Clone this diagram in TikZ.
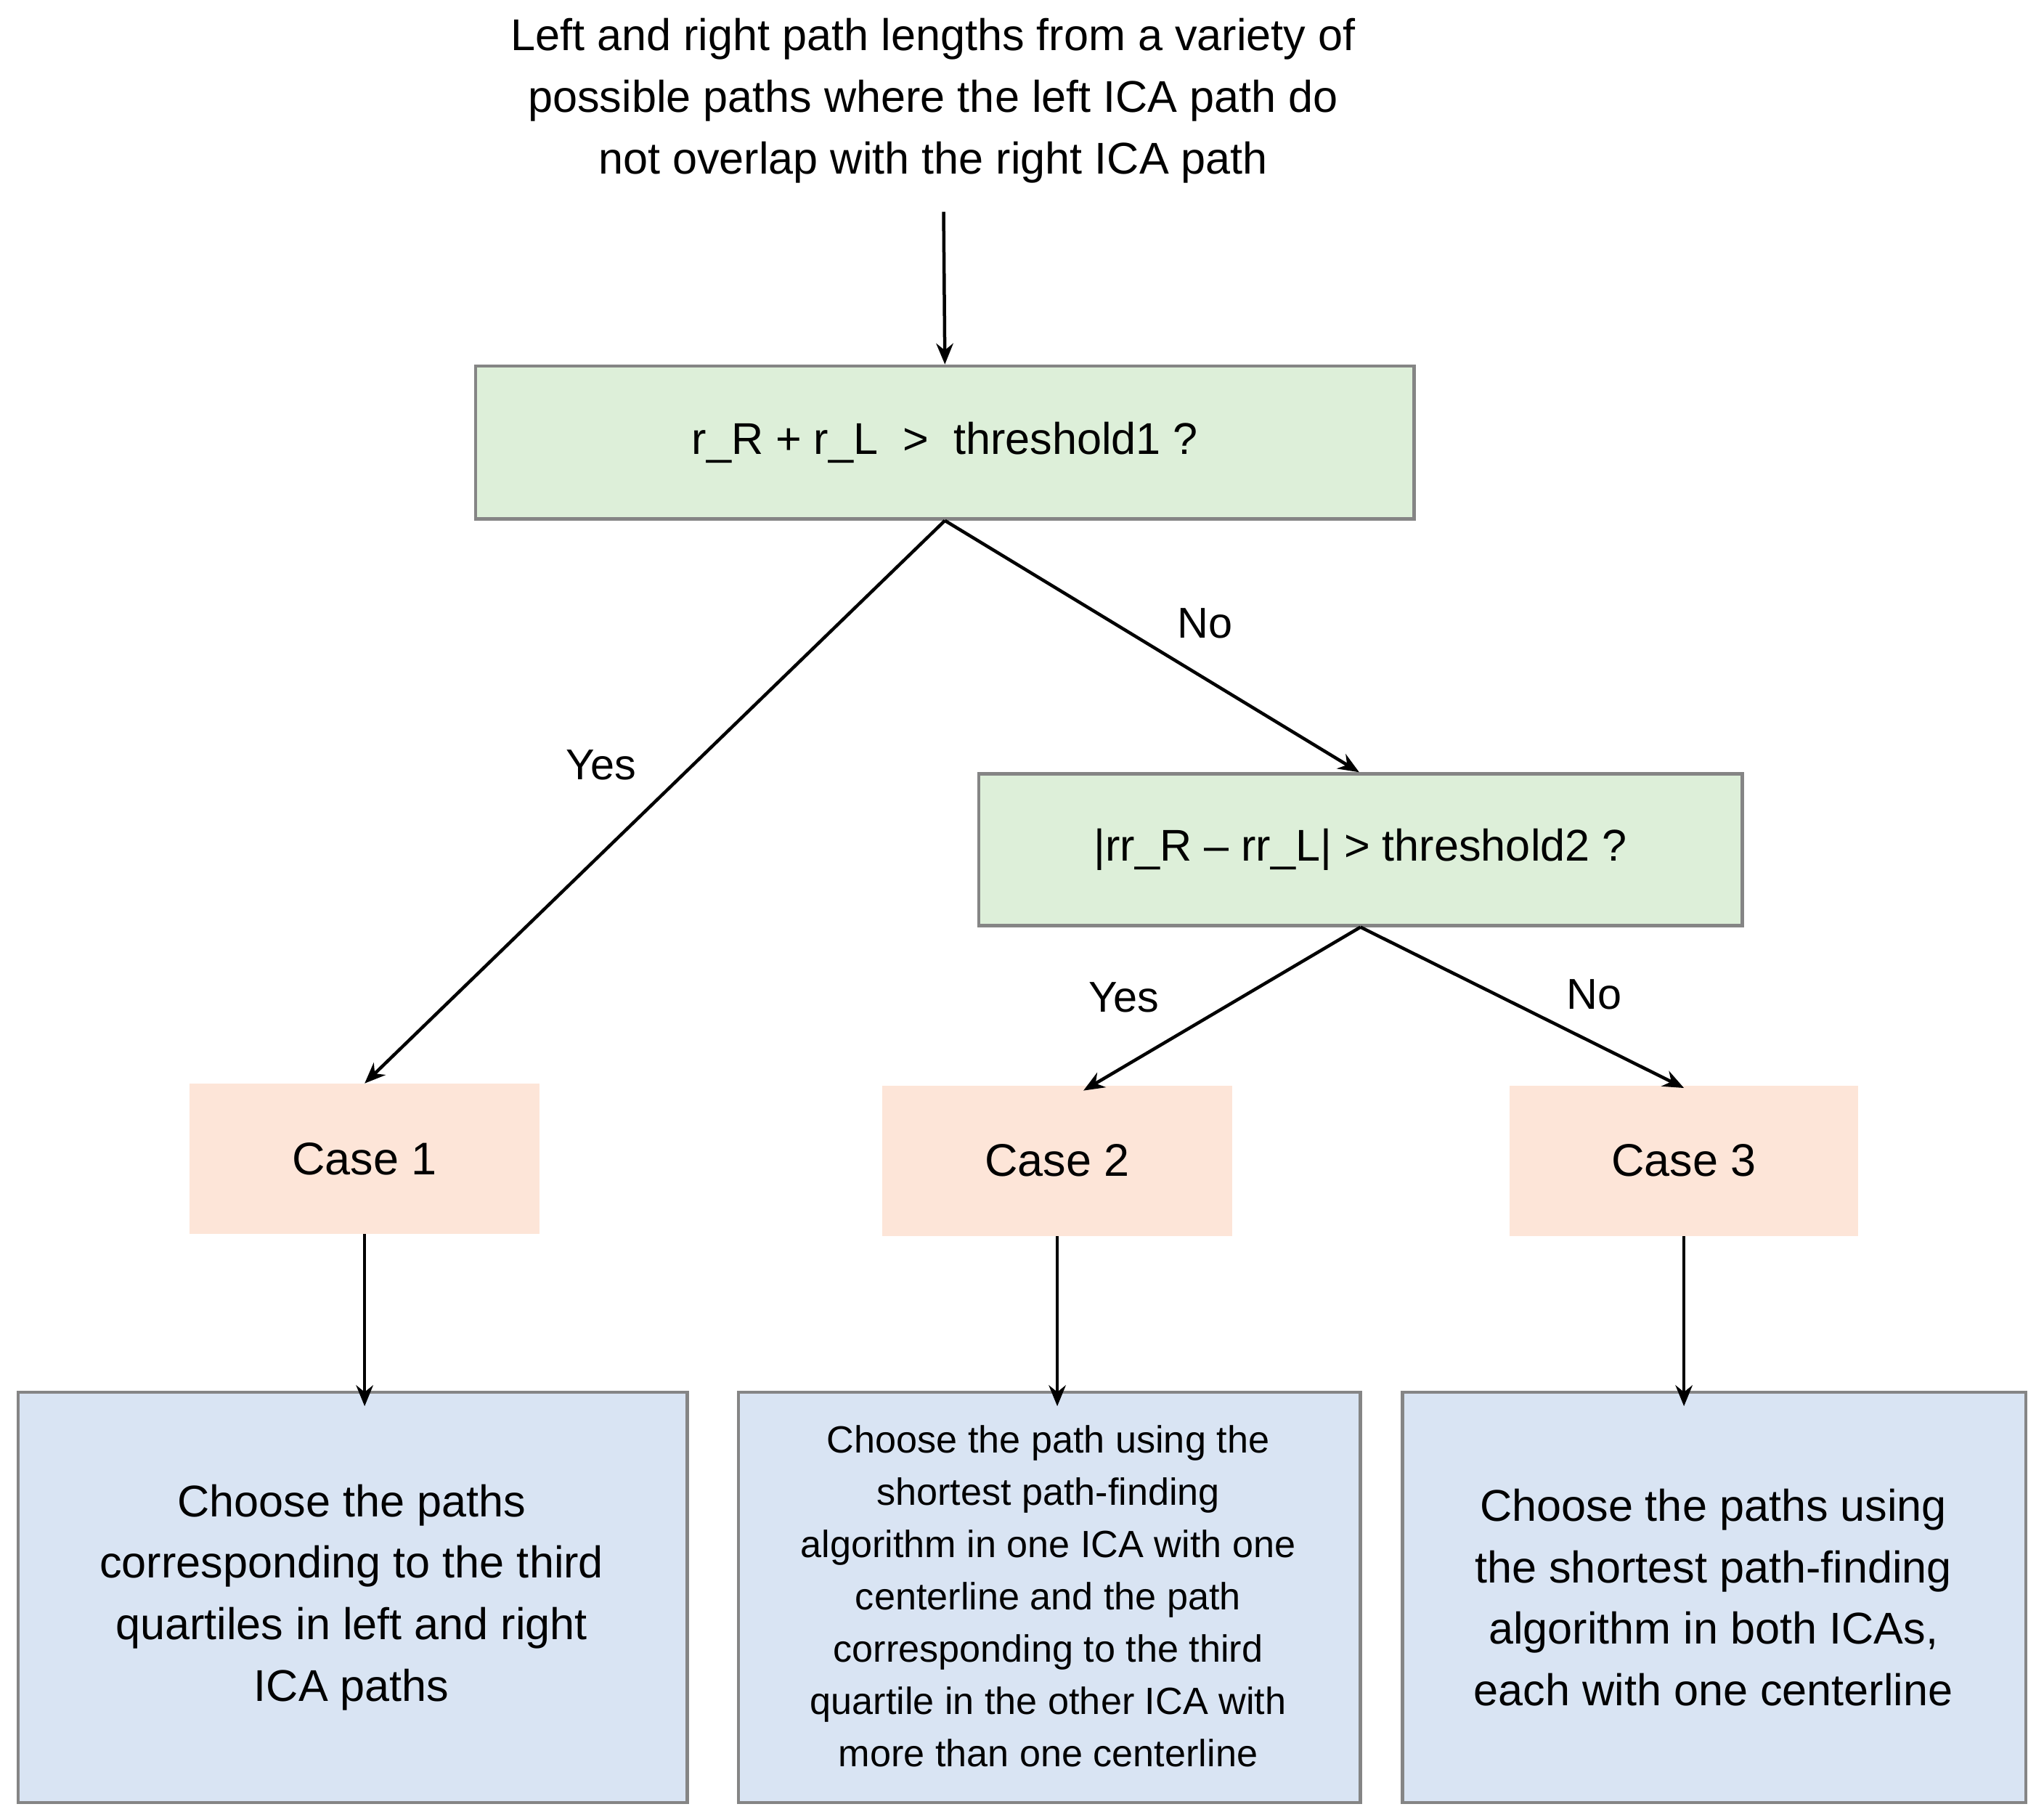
\documentclass[tikz,border=0pt]{standalone}
\usepackage{fontspec}
\setmainfont{Liberation Sans}
\usetikzlibrary{arrows.meta}
\definecolor{gfill}{HTML}{DDEFD9}
\definecolor{pfill}{HTML}{FDE5D8}
\definecolor{bfill}{HTML}{D9E4F3}
\definecolor{bord}{HTML}{858585}
\begin{document}
\begin{tikzpicture}[x=1pt,y=-1pt,
  box/.style={draw=bord,line width=2.5pt,inner sep=0pt},
  gbox/.style={box,fill=gfill},
  bbox/.style={box,fill=bfill},
  cbox/.style={fill=pfill,inner sep=0pt},
  arr/.style={line width=2.5pt,-{Stealth[length=16pt,width=13pt]}},
  lab/.style={font=\fontsize{33}{40}\selectfont},
  big/.style={font=\fontsize{34}{47}\selectfont,align=center},
  sm/.style={font=\fontsize{29}{40}\selectfont,align=center}]
\useasboundingbox (0,0) rectangle (1564,1392);
\node[big] (top) at (714,77) {Left and right path lengths from a variety of\\possible paths where the left ICA path do\\not overlap with the right ICA path};
\coordinate (ts) at (722,162);
\node[gbox,minimum width=718pt,minimum height=117pt,font=\fontsize{34}{40}\selectfont] (d1) at (723,338.5) {r\_R + r\_L\ \ >\ \ threshold1 ?};
\node[gbox,minimum width=584pt,minimum height=116pt,font=\fontsize{34}{40}\selectfont] (d2) at (1041,650) {|rr\_R -- rr\_L| > threshold2 ?};
\node[cbox,minimum width=268pt,minimum height=115pt,font=\fontsize{35}{40}\selectfont] (c1) at (279,886.5) {Case 1};
\node[cbox,minimum width=268pt,minimum height=115pt,font=\fontsize{35}{40}\selectfont] (c2) at (809,888) {Case 2};
\node[cbox,minimum width=267pt,minimum height=115pt,font=\fontsize{35}{40}\selectfont] (c3) at (1288.5,888) {Case 3};
\node[bbox,minimum width=512pt,minimum height=314pt] (b1) at (270,1222) {};
\node[big] at (269,1222) {Choose the paths\\corresponding to the third\\quartiles in left and right\\ICA paths};
\node[bbox,minimum width=476pt,minimum height=314pt] (b2) at (803,1222) {};
\node[sm] at (802,1221) {Choose the path using the\\shortest path-finding\\algorithm in one ICA with one\\centerline and the path\\corresponding to the third\\quartile in the other ICA with\\more than one centerline};
\node[bbox,minimum width=477pt,minimum height=314pt] (b3) at (1311.5,1222) {};
\node[big] at (1311,1222) {Choose the paths using\\the shortest path-finding\\algorithm in both ICAs,\\each with one centerline};
\draw[arr] (ts) -- (d1.north);
\draw[arr] (d1.south) -- (c1.north);
\draw[arr] (d1.south) -- ([xshift=-1pt]d2.north);
\draw[arr] (d2.south) -- ([xshift=20pt,yshift=-4pt]c2.north);
\draw[arr] (d2.south) -- ([yshift=-2pt]c3.north);
\draw[arr] (c1.south) -- ([yshift=-12pt]b1.north -| c1.south);
\draw[arr] (c2.south) -- ([yshift=-12pt]b2.north -| c2.south);
\draw[arr] (c3.south) -- ([yshift=-12pt]b3.north -| c3.south);
\node[lab] at (460,585) {Yes};
\node[lab] at (922,477) {No};
\node[lab] at (860,763) {Yes};
\node[lab] at (1220,761) {No};
\end{tikzpicture}
\end{document}
